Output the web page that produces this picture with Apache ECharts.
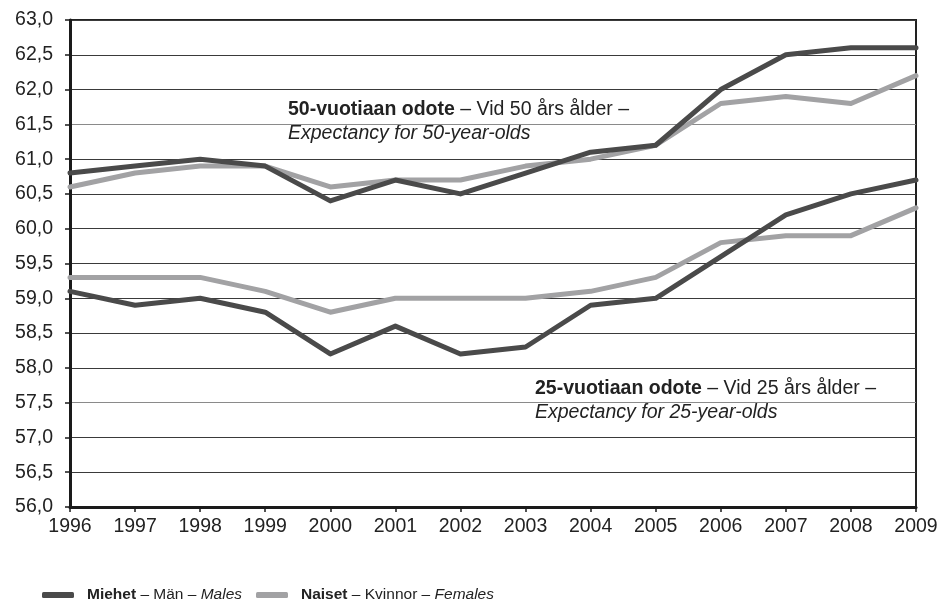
<!DOCTYPE html>
<html>
<head>
<meta charset="utf-8">
<script src="https://cdn.jsdelivr.net/npm/echarts@6/dist/echarts.min.js"></script>
<style>
  html, body { margin: 0; padding: 0; background: #fff; }
  #chart { width: 941px; height: 610px; }
</style>
</head>
<body>
<div id="chart"></div>
<script>
// years on the x axis
var years = ['1996', '1997', '1998', '1999', '2000', '2001', '2002', '2003', '2004', '2005', '2006', '2007', '2008', '2009'];

// life expectancy at 50
var males50 = [60.8, 60.9, 61.0, 60.9, 60.4, 60.7, 60.5, 60.8, 61.1, 61.2, 62.0, 62.5, 62.6, 62.6];
var females50 = [60.6, 60.8, 60.9, 60.9, 60.6, 60.7, 60.7, 60.9, 61.0, 61.2, 61.8, 61.9, 61.8, 62.2];

// life expectancy at 25
var males25 = [59.1, 58.9, 59.0, 58.8, 58.2, 58.6, 58.2, 58.3, 58.9, 59.0, 59.6, 60.2, 60.5, 60.7];
var females25 = [59.3, 59.3, 59.3, 59.1, 58.8, 59.0, 59.0, 59.0, 59.1, 59.3, 59.8, 59.9, 59.9, 60.3];

var darkColor = '#4a4a4a';
var lightColor = '#a2a2a4';
var fontFamily = '"Liberation Sans", Arial, sans-serif';

// grid lines: the 57.5 and 61.5 lines are lighter (they lead to the notes)
var gridColors = [];
for (var i = 0; i <= 14; i++) {
    gridColors.push(i === 3 || i === 11 ? '#8a8a8a' : '#3a3a3a');
}

function lineSeries(name, color, data) {
    return {
        name: name,
        type: 'line',
        data: data,
        symbol: 'none',
        smooth: false,
        lineStyle: {color: color, width: 5, cap: 'round', join: 'round'},
        itemStyle: {color: color},
        z: 3
    };
}

function note(x, y, w, h, textX, textY, line1Bold, line1Rest, line2) {
    return {
        type: 'group',
        z: 10,
        children: [
            {
                type: 'rect',
                shape: {x: x, y: y, width: w, height: h},
                style: {fill: '#fff'}
            },
            {
                type: 'text',
                x: textX,
                y: textY,
                style: {
                    text: '{b|' + line1Bold + '}{n|' + line1Rest + '}\n{i|' + line2 + '}',
                    rich: {
                        b: {fontFamily: fontFamily, fontSize: 19.5, fontWeight: 'bold', fill: '#222', lineHeight: 24},
                        n: {fontFamily: fontFamily, fontSize: 19.5, fill: '#222', lineHeight: 24},
                        i: {fontFamily: fontFamily, fontSize: 19.5, fontStyle: 'italic', fill: '#222', lineHeight: 24}
                    }
                }
            }
        ]
    };
}

function legendRich() {
    var f = '"Liberation Sans", Arial, sans-serif';
    return {
        s: {width: 8},
        b: {fontFamily: f, fontSize: 15.5, fontWeight: 'bold', color: '#222'},
        n: {fontFamily: f, fontSize: 15.5, color: '#222'},
        i: {fontFamily: f, fontSize: 15.5, fontStyle: 'italic', color: '#222'}
    };
}

function legendItem(name, left) {
    return {
        data: [name],
        left: left,
        top: 582,
        icon: 'roundRect',
        itemWidth: 32,
        itemHeight: 6,
        formatter: function (n) {
            if (n === 'Miehet') {
                return '{s|}{b|Miehet}{n| – Män – }{i|Males}';
            }
            return '{s|}{b|Naiset}{n| – Kvinnor – }{i|Females}';
        },
        textStyle: {rich: legendRich()}
    };
}

var chart = echarts.init(document.getElementById('chart'), null, {renderer: 'canvas'});

var option = {
    backgroundColor: '#fff',
    animation: false,
    textStyle: {fontFamily: fontFamily},
    grid: {
        left: 70, right: 25, top: 20, bottom: 103,
        show: true, borderColor: '#222', borderWidth: 2
    },
    legend: [
        legendItem('Miehet', 37),
        legendItem('Naiset', 251)
    ],
    xAxis: {
        type: 'category',
        data: years,
        boundaryGap: false,
        axisLine: {show: true, lineStyle: {color: '#1a1a1a', width: 3}},
        axisTick: {show: true, length: 5, lineStyle: {color: '#1a1a1a', width: 1.5}},
        axisLabel: {color: '#222', fontSize: 19.5, margin: 10, fontFamily: fontFamily},
        splitLine: {show: false}
    },
    yAxis: {
        type: 'value',
        min: 56,
        max: 63,
        interval: 0.5,
        axisLine: {show: true, lineStyle: {color: '#1a1a1a', width: 3}},
        axisTick: {show: true, length: 5, lineStyle: {color: '#1a1a1a', width: 1.5}},
        axisLabel: {
            color: '#222', fontSize: 19.5, margin: 17, fontFamily: fontFamily,
            formatter: function (v) { return v.toFixed(1).replace('.', ','); }
        },
        splitLine: {show: true, lineStyle: {color: gridColors, width: 1}}
    },
    series: [
        lineSeries('Naiset', lightColor, females50),
        lineSeries('Miehet', darkColor, males50),
        lineSeries('Naiset', lightColor, females25),
        lineSeries('Miehet', darkColor, males25)
    ],
    graphic: [
        note(271, 90, 378, 56, 288, 98, '50-vuotiaan odote', ' – Vid 50 års ålder –', 'Expectancy for 50-year-olds'),
        note(512, 372, 378, 56, 535, 377, '25-vuotiaan odote', ' – Vid 25 års ålder –', 'Expectancy for 25-year-olds')
    ]
};

chart.setOption(option);

window.onresize = function () {
    if (null != chart) {
        chart.resize();
    }
};
</script>
</body>
</html>
